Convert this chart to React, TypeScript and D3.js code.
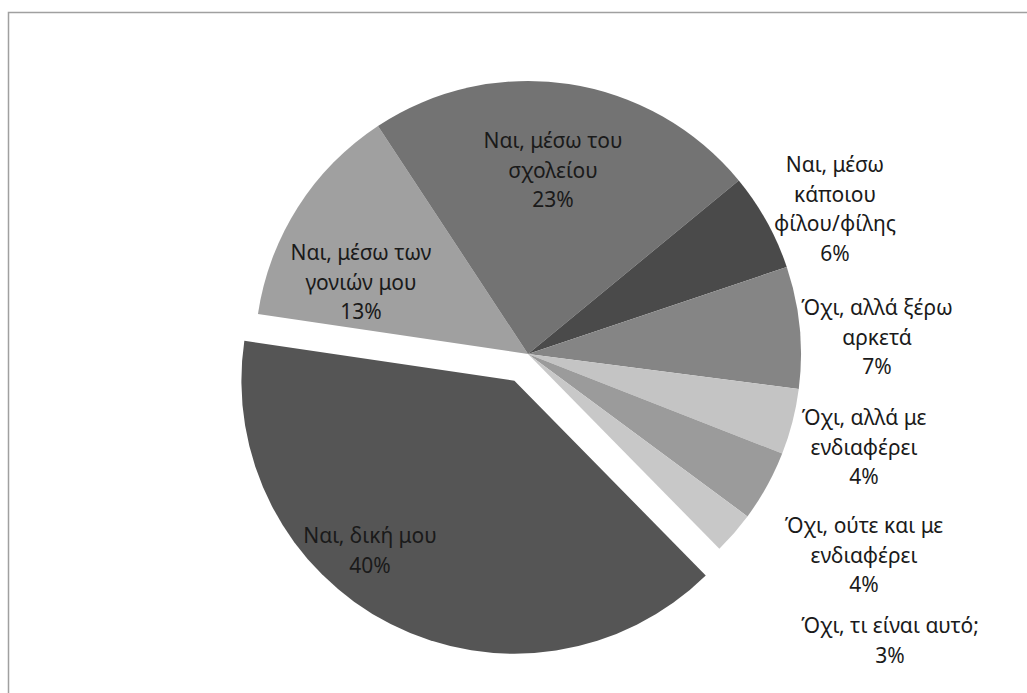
import React from "react";
import * as d3 from "d3";

const categories = [
  "Ναι, δική μου",
  "Ναι, μέσω των γονιών μου",
  "Ναι, μέσω του σχολείου",
  "Ναι, μέσω κάποιου φίλου/φίλης",
  "Όχι, αλλά ξέρω αρκετά",
  "Όχι, αλλά με ενδιαφέρει",
  "Όχι, ούτε και με ενδιαφέρει",
  "Όχι, τι είναι αυτό;",
];
const values = [39.7, 13.4, 23.3, 5.8, 7.2, 3.9, 4.2, 2.5];
const percentLabels = ["40%", "13%", "23%", "6%", "7%", "4%", "4%", "3%"];
const labelLines = [
  ["Ναι, δική μου"],
  ["Ναι, μέσω των", "γονιών μου"],
  ["Ναι, μέσω του", "σχολείου"],
  ["Ναι, μέσω", "κάποιου", "φίλου/φίλης"],
  ["Όχι, αλλά ξέρω", "αρκετά"],
  ["Όχι, αλλά με", "ενδιαφέρει"],
  ["Όχι, ούτε και με", "ενδιαφέρει"],
  ["Όχι, τι είναι αυτό;"],
];
const colors = ["#555555", "#a0a0a0", "#737373", "#4a4a4a", "#858585", "#c4c4c4", "#9b9b9b", "#c8c8c8"];
const exploded = [1, 0, 0, 0, 0, 0, 0, 0];
// label anchor: [x, y of first line center]
const labelPos: [number, number][] = [
  [370, 535],
  [361, 252],
  [553, 140],
  [835, 164],
  [877, 307],
  [864, 417],
  [864, 525],
  [890, 625],
];

const W = 1027;
const H = 693;
const cx = 528;
const cy = 354;
const R = 273;
const explodeDist = 30;
const startDeg = 135.5;

export default function App() {
  const pie = d3
    .pie<number>()
    .sort(null)
    .value((d) => d)
    .startAngle((startDeg * Math.PI) / 180)
    .endAngle((startDeg * Math.PI) / 180 + 2 * Math.PI);
  const arcs = pie(values);
  const arc = d3.arc<d3.PieArcDatum<number>>().innerRadius(0).outerRadius(R);
  const lineH = 29.5;

  return (
    <svg
      width={W}
      height={H}
      style={{ position: "absolute", left: 0, top: 0, background: "#fff" }}
      fontFamily="'Noto Sans', 'Open Sans', sans-serif"
    >
      <rect x={0} y={0} width={W} height={H} fill="#fff" />
      <rect x={8.5} y={12.5} width={W + 20} height={H + 20} fill="none" stroke="#a0a0a0" strokeWidth={1.5} />
      <g transform={`translate(${cx},${cy})`}>
        {arcs.map((a, i) => {
          const mid = (a.startAngle + a.endAngle) / 2;
          const d = exploded[i] ? explodeDist : 0;
          const dx = Math.sin(mid) * d;
          const dy = -Math.cos(mid) * d;
          return (
            <path key={i} d={arc(a) || ""} fill={colors[i]} transform={`translate(${dx},${dy})`} />
          );
        })}
      </g>
      {categories.map((c, i) => {
        const lines = [...labelLines[i], percentLabels[i]];
        const [x, y] = labelPos[i];
        return (
          <text key={c} x={x} y={y} textAnchor="middle" fontSize={21} fill="#1a1a1a">
            {lines.map((l, j) => (
              <tspan key={j} x={x} y={y + j * lineH} dominantBaseline="central">
                {l}
              </tspan>
            ))}
          </text>
        );
      })}
    </svg>
  );
}
